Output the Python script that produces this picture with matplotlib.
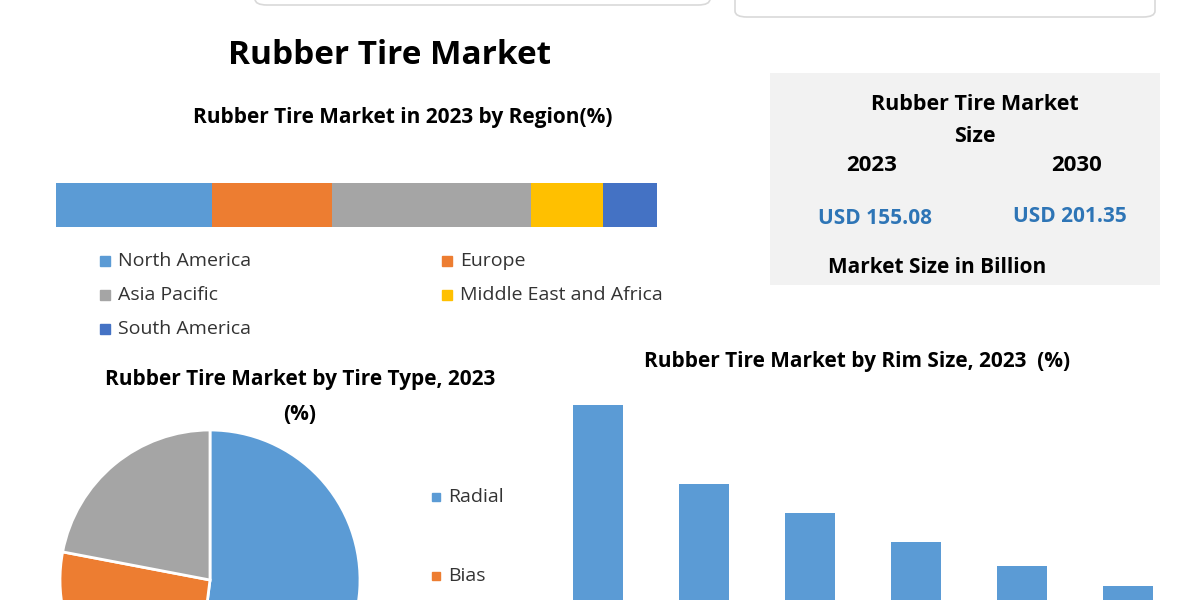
import matplotlib
matplotlib.use("Agg")
import matplotlib.pyplot as plt
from matplotlib.patches import Rectangle, FancyBboxPatch

plt.rcParams['font.family'] = ['Open Sans', 'DejaVu Sans']

regions = ["North America", "Europe", "Asia Pacific", "Middle East and Africa", "South America"]
region_share = [26, 20, 33, 12, 9]
region_colors = ["#5b9bd5", "#ed7d31", "#a5a5a5", "#ffc000", "#4472c4"]

tire_types = ["Radial", "Bias", "Others"]
tire_share = [52, 26, 22]
tire_colors = ["#5b9bd5", "#ed7d31", "#a5a5a5"]

rim_sizes = ["R1", "R2", "R3", "R4", "R5", "R6"]
rim_share = [32.5, 19.3, 14.5, 9.7, 5.7, 2.3]

W, H = 1200, 600
fig = plt.figure(figsize=(12, 6), dpi=100)
fig.patch.set_facecolor("white")

def fx(x): return x / W
def fy(y): return 1 - y / H

for x0, x1, y1 in [(255, 710, 5), (735, 1155, 17)]:
    fig.patches.append(FancyBboxPatch((fx(x0), fy(y1)), fx(x1 - x0), 0.05,
                                      boxstyle="round,pad=0,rounding_size=0.01",
                                      transform=fig.transFigure, facecolor="white",
                                      edgecolor="#d9d9d9", lw=1.2))

fig.text(fx(390), fy(55), "Rubber Tire Market", ha="center", va="center",
         fontsize=24, fontweight="bold")
fig.text(fx(403), fy(117), "Rubber Tire Market in 2023 by Region(%)", ha="center",
         va="center", fontsize=15, fontweight="bold")

axb = fig.add_axes([fx(56), fy(227), fx(601), (227 - 183) / H])
left = 0
for v, c in zip(region_share, region_colors):
    axb.barh(0, v, left=left, color=c, height=1)
    left += v
axb.set_xlim(0, sum(region_share))
axb.set_ylim(-0.5, 0.5)
axb.axis("off")

leg_pos = [(105, 261), (447, 261), (105, 295), (447, 295), (105, 329)]
for (x, y), name, c in zip(leg_pos, regions, region_colors):
    fig.patches.append(Rectangle((fx(x - 5), fy(y + 5)), fx(10), 10 / H,
                                 transform=fig.transFigure, color=c))
    fig.text(fx(x + 13), fy(y), name, va="center", fontsize=14, color="#333333")

fig.patches.append(Rectangle((fx(770), fy(285)), fx(390), (285 - 73) / H,
                             transform=fig.transFigure, facecolor="#f2f2f2", edgecolor="none"))
fig.text(fx(975), fy(104), "Rubber Tire Market", ha="center", va="center",
         fontsize=15.5, fontweight="bold")
fig.text(fx(975), fy(137), "Size", ha="center", va="center", fontsize=15.5, fontweight="bold")
fig.text(fx(872), fy(166), "2023", ha="center", va="center", fontsize=16, fontweight="bold")
fig.text(fx(1077), fy(166), "2030", ha="center", va="center", fontsize=16, fontweight="bold")
fig.text(fx(875), fy(219), "USD 155.08", ha="center", va="center", fontsize=15,
         fontweight="bold", color="#2e75b6")
fig.text(fx(1070), fy(217), "USD 201.35", ha="center", va="center", fontsize=15,
         fontweight="bold", color="#2e75b6")
fig.text(fx(828), fy(267), "Market Size in Billion", ha="left", va="center",
         fontsize=15, fontweight="bold")

fig.text(fx(300), fy(380), "Rubber Tire Market by Tire Type, 2023", ha="center",
         va="center", fontsize=15, fontweight="bold")
fig.text(fx(300), fy(414), "(%)", ha="center", va="center", fontsize=15, fontweight="bold")
axp = fig.add_axes([fx(60), fy(730), fx(300), 300 / H])
axp.pie(tire_share, colors=tire_colors, startangle=90, counterclock=False,
        wedgeprops=dict(edgecolor="white", linewidth=2))
axp.set_xlim(-1, 1)
axp.set_ylim(-1, 1)
axp.set_aspect("equal")
for (y, name, c) in [(497, "Radial", tire_colors[0]), (576, "Bias", tire_colors[1])]:
    fig.patches.append(Rectangle((fx(432), fy(y + 4)), fx(8), 8 / H,
                                 transform=fig.transFigure, color=c))
    fig.text(fx(448), fy(y), name, va="center", fontsize=14, color="#333333")

fig.text(fx(857), fy(362), "Rubber Tire Market by Rim Size, 2023  (%)", ha="center",
         va="center", fontsize=15, fontweight="bold")
axr = fig.add_axes([fx(545), 0, fx(636), 210 / H])
axr.bar(range(len(rim_share)), rim_share, width=0.47, color="#5b9bd5")
axr.set_ylim(0, 35)
axr.set_xlim(-0.5, len(rim_share) - 0.5)
axr.axis("off")

fig.savefig("out.png", dpi=100)
